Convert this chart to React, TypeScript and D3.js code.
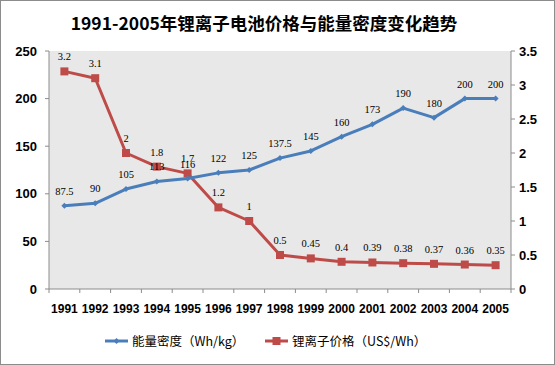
import React from "react";
import * as d3 from "d3";

const years = ["1991","1992","1993","1994","1995","1996","1997","1998","1999","2000","2001","2002","2003","2004","2005"];
const energyDensity = [87.5, 90, 105, 113, 116, 122, 125, 137.5, 145, 160, 173, 190, 180, 200, 200];
const price = [3.2, 3.1, 2, 1.8, 1.7, 1.2, 1, 0.5, 0.45, 0.4, 0.39, 0.38, 0.37, 0.36, 0.35];
const leftTicks = [0, 50, 100, 150, 200, 250];
const rightTicks = [0, 0.5, 1, 1.5, 2, 2.5, 3, 3.5];
const title = "1991-2005年锂离子电池价格与能量密度变化趋势";
const legendBlue = "能量密度（Wh/kg）";
const legendRed = "锂离子价格（US$/Wh）";

const W = 555, H = 365;
const L = 49, R = 511, T = 51, B = 289;
const blue = "#4a7ebb";
const red = "#be4b48";
const axisFont = "'Liberation Sans', Arial, sans-serif";
const labelFont = "'Liberation Serif', 'DejaVu Serif', serif";

export default function App() {
  const x = d3.scaleBand<string>().domain(years).range([L, R]);
  const cx = (y: string) => (x(y) as number) + x.bandwidth() / 2;
  const yL = d3.scaleLinear().domain([0, 250]).range([B, T]);
  const yR = d3.scaleLinear().domain([0, 3.5]).range([B, T]);
  const lineB = d3.line<number>().x((_, i) => cx(years[i])).y(d => yL(d));
  const lineR = d3.line<number>().x((_, i) => cx(years[i])).y(d => yR(d));
  const boundaries = years.map(y => x(y) as number).concat([R]);

  return (
    <svg width={W} height={H} style={{ position: "absolute", left: 0, top: 0 }}>
      <rect x={0.5} y={0.5} width={W - 1} height={H - 1} fill="#fff" stroke="#8c8c8c" />
      <text x={264} y={30} textAnchor="middle" fontFamily="'Noto Sans CJK SC', sans-serif" fontWeight="bold" fontSize={17.5} fill="#000">{title}</text>
      <rect x={L} y={T} width={R - L} height={B - T} fill="#e8e8e8" />
      {/* left axis */}
      <line x1={L} x2={L} y1={T} y2={B} stroke="#8c8c8c" />
      {leftTicks.map(t => (
        <g key={"l" + t}>
          <line x1={L - 4} x2={L} y1={yL(t)} y2={yL(t)} stroke="#8c8c8c" />
          <text x={37} y={yL(t) + 4.5} textAnchor="end" fontFamily={axisFont} fontWeight="bold" fontSize={13}>{t}</text>
        </g>
      ))}
      {/* right axis */}
      <line x1={R} x2={R} y1={T} y2={B} stroke="#8c8c8c" />
      {rightTicks.map(t => (
        <g key={"r" + t}>
          <line x1={R} x2={R + 4} y1={yR(t)} y2={yR(t)} stroke="#8c8c8c" />
          <text x={519} y={yR(t) + 4.5} textAnchor="start" fontFamily={axisFont} fontWeight="bold" fontSize={13}>{t}</text>
        </g>
      ))}
      {/* x axis */}
      <line x1={L} x2={R} y1={B} y2={B} stroke="#8c8c8c" />
      {boundaries.map((b, i) => (
        <line key={"xt" + i} x1={b} x2={b} y1={B} y2={B + 4} stroke="#8c8c8c" />
      ))}
      {years.map(y => (
        <text key={"x" + y} x={cx(y)} y={313} textAnchor="middle" fontFamily={axisFont} fontWeight="bold" fontSize={12}>{y}</text>
      ))}
      {/* red series */}
      <path d={lineR(price) as string} fill="none" stroke={red} strokeWidth={3} strokeLinejoin="round" />
      {price.map((v, i) => (
        <rect key={"rm" + i} x={cx(years[i]) - 4} y={yR(v) - 4} width={8} height={8} fill={red} />
      ))}
      {/* blue series */}
      <path d={lineB(energyDensity) as string} fill="none" stroke={blue} strokeWidth={3} strokeLinejoin="round" />
      {energyDensity.map((v, i) => {
        const px = cx(years[i]), py = yL(v);
        return <path key={"bm" + i} d={`M${px},${py - 3}L${px + 3},${py}L${px},${py + 3}L${px - 3},${py}Z`} fill={blue} />;
      })}
      {/* labels */}
      {price.map((v, i) => (
        <text key={"rl" + i} x={cx(years[i])} y={yR(v) - 11} textAnchor="middle" fontFamily={labelFont} fontSize={10.5} fill="#000">{v}</text>
      ))}
      {energyDensity.map((v, i) => (
        <text key={"bl" + i} x={cx(years[i])} y={yL(v) - 11} textAnchor="middle" fontFamily={labelFont} fontSize={10.5} fill="#000">{v}</text>
      ))}
      {/* legend */}
      <line x1={105} x2={128} y1={341} y2={341} stroke={blue} strokeWidth={3} />
      <path d="M116.5,338L119.5,341L116.5,344L113.5,341Z" fill={blue} />
      <text x={132} y={346} fontFamily="'Noto Sans CJK SC', sans-serif" fontSize={12.5}>{legendBlue}</text>
      <line x1={265} x2={288} y1={341} y2={341} stroke={red} strokeWidth={3} />
      <rect x={272.5} y={337} width={8} height={8} fill={red} />
      <text x={292} y={346} fontFamily="'Noto Sans CJK SC', sans-serif" fontSize={12.5}>{legendRed}</text>
    </svg>
  );
}
